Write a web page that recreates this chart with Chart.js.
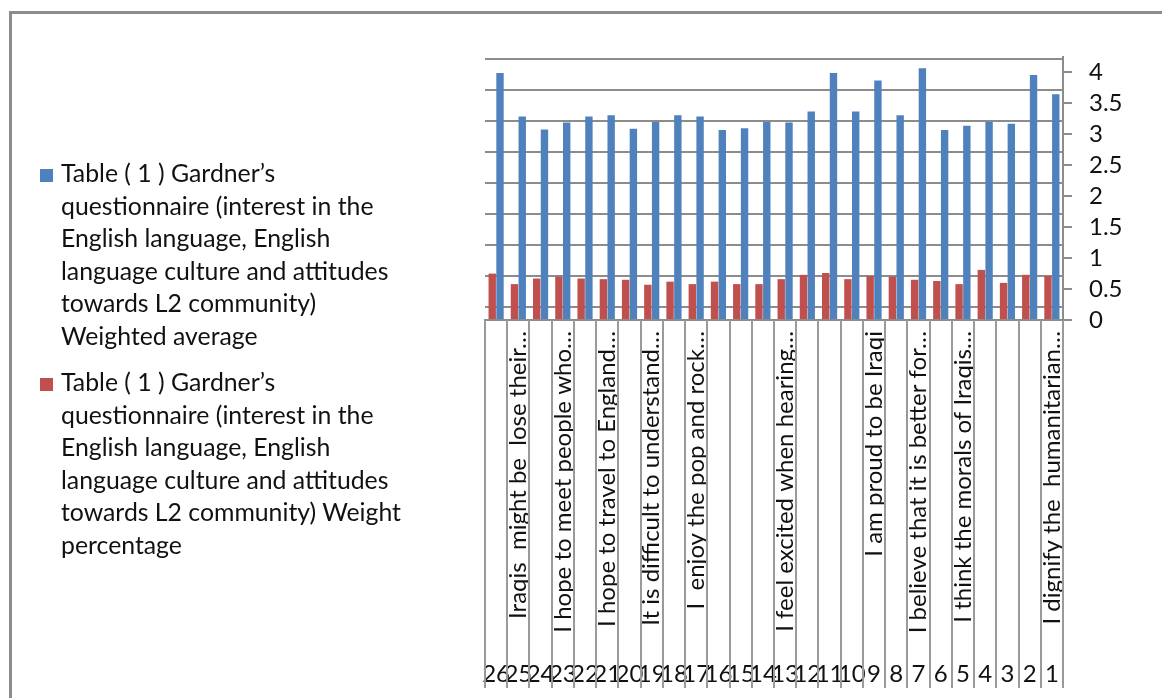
<!DOCTYPE html>
<html lang="en">
<head>
  <meta charset="UTF-8"/>
  <title>Gardner's questionnaire</title>
  <script src="https://cdn.jsdelivr.net/npm/chart.js"></script>
  <style>
    html, body { margin: 0; padding: 0; background: #fff; }
    body { width: 1162px; height: 698px; position: relative; overflow: hidden; font-family: Lato, "Open Sans", sans-serif; }
    #frame { position: absolute; left: 9px; top: 11px; width: 1200px; height: 700px;
             border-top: 3px solid #8c8c8c; border-left: 3px solid #8c8c8c; }
    #chart { position: absolute; left: 0; top: 0; }
    .item { position: absolute; left: 40px; }
    .item .box { position: absolute; left: 0; width: 13px; height: 13px; }
    .item .txt { position: absolute; left: 21px; top: 0; white-space: nowrap;
                 font-size: 24.8px; line-height: 32.5px; color: #111; }
  </style>
</head>
<body>
  <div id="frame"></div>
  <canvas id="chart" width="1162" height="698"></canvas>

  <div class="item" style="top:157px">
    <div class="box" style="top:12px;background:#4F81BD"></div>
    <div class="txt">Table ( 1 ) Gardner’s<br>questionnaire (interest in the<br>English language, English<br>language culture and attitudes<br>towards L2 community)<br>Weighted average</div>
  </div>
  <div class="item" style="top:366px">
    <div class="box" style="top:12px;background:#C0504D"></div>
    <div class="txt">Table ( 1 ) Gardner’s<br>questionnaire (interest in the<br>English language, English<br>language culture and attitudes<br>towards L2 community) Weight<br>percentage</div>
  </div>

  <script>
    // question numbers, axis is drawn reversed (26 on the left)
    const questionNos = ['1','2','3','4','5','6','7','8','9','10','11','12','13',
                         '14','15','16','17','18','19','20','21','22','23','24','25','26'];

    // statement text shown above the number (only some fit in the original)
    const questionTexts = [
      'I dignify the  humanitarian…', '', '', '', 'I think the morals of Iraqis…', '',
      'I believe that it is better for…', '', 'I am proud to be Iraqi', '', '', '',
      'I feel excited when hearing…', '', '', '', 'I  enjoy the pop and rock…', '',
      'It is difficult to understand…', '', 'I hope to travel to England…', '',
      'I hope to meet people who…', '', 'Iraqis  might be  lose their…', ''
    ];

    const weightedAverage = [3.65, 3.96, 3.17, 3.20, 3.14, 3.07, 4.07, 3.31, 3.87, 3.37, 3.99, 3.37, 3.19,
                             3.20, 3.10, 3.07, 3.29, 3.31, 3.20, 3.09, 3.31, 3.29, 3.19, 3.08, 3.29, 3.99];
    const weightPercentage = [0.71, 0.73, 0.60, 0.81, 0.58, 0.63, 0.65, 0.70, 0.71, 0.66, 0.76, 0.73, 0.66,
                              0.58, 0.58, 0.62, 0.58, 0.62, 0.57, 0.65, 0.66, 0.67, 0.70, 0.67, 0.58, 0.75];

    const yTicks = [0, 0.5, 1, 1.5, 2, 2.5, 3, 3.5, 4];

    const seriesNames = [
      'Table ( 1 ) Gardner’s questionnaire (interest in the English language, English language culture and attitudes towards L2 community) Weighted average',
      'Table ( 1 ) Gardner’s questionnaire (interest in the English language, English language culture and attitudes towards L2 community) Weight percentage'
    ];

    const lineGray = '#8c8c8c';
    const textColor = '#111';
    const font = { family: 'Lato', size: 24 };

    // vertical separators of the category table under the plot
    const categoryTable = {
      id: 'categoryTable',
      afterDraw(chart) {
        const x = chart.scales.x, xn = chart.scales.xNum, c = chart.ctx;
        c.save();
        c.strokeStyle = '#9a9a9a';
        c.lineWidth = 2;
        for (let i = 0; i <= questionNos.length; i++) {
          const px = Math.round(x.getPixelForValue(i - 0.5));
          c.beginPath();
          c.moveTo(px, x.top);
          c.lineTo(px, xn.bottom);
          c.stroke();
        }
        c.restore();
      }
    };

    new Chart(document.getElementById('chart'), {
      type: 'bar',
      data: {
        labels: questionNos,
        datasets: [
          { label: seriesNames[1], data: weightPercentage, backgroundColor: '#C0504D' },
          { label: seriesNames[0], data: weightedAverage, backgroundColor: '#4F81BD' }
        ]
      },
      options: {
        responsive: false,
        animation: false,
        devicePixelRatio: 1,
        layout: { padding: { left: 485, top: 57, right: 0, bottom: 10 } },
        datasets: { bar: { categoryPercentage: 0.7, barPercentage: 0.95 } },
        plugins: { legend: { display: false }, tooltip: { enabled: false } },
        scales: {
          x: {
            type: 'category', reverse: true, position: 'bottom', offset: true,
            grid: { display: false },
            border: { display: true, color: lineGray, width: 2 },
            ticks: {
              autoSkip: false, minRotation: 90, maxRotation: 90, padding: 3,
              font, color: textColor,
              callback: v => questionTexts[v]
            },
            afterFit: s => { s.height = 330; }
          },
          xNum: {
            type: 'category', labels: questionNos, reverse: true, position: 'bottom', offset: true,
            grid: { display: false }, border: { display: false },
            ticks: { autoSkip: false, maxRotation: 0, padding: 2, font, color: textColor },
            afterFit: s => { s.height = 38; }
          },
          y: {
            position: 'right', min: 0, max: 4.25,
            afterBuildTicks: s => { s.ticks = yTicks.map(v => ({ value: v })); },
            ticks: { padding: 17, font, color: textColor, callback: v => String(v) },
            grid: { drawOnChartArea: false, drawTicks: true, tickLength: 9, color: lineGray, lineWidth: 2 },
            border: { display: true, color: lineGray, width: 2 },
            afterFit: s => { s.width = 99; }
          },
          // back-wall gridlines of the 3D original, sitting a little higher than the front axis
          yGrid: {
            position: 'left', min: -0.216, max: 4.034,
            afterBuildTicks: s => { s.ticks = yTicks.map(v => ({ value: v })); },
            ticks: { display: false },
            grid: { color: lineGray, lineWidth: 2, drawTicks: false },
            border: { display: false },
            afterFit: s => { s.width = 0; }
          }
        }
      },
      plugins: [categoryTable]
    });
  </script>
</body>
</html>
